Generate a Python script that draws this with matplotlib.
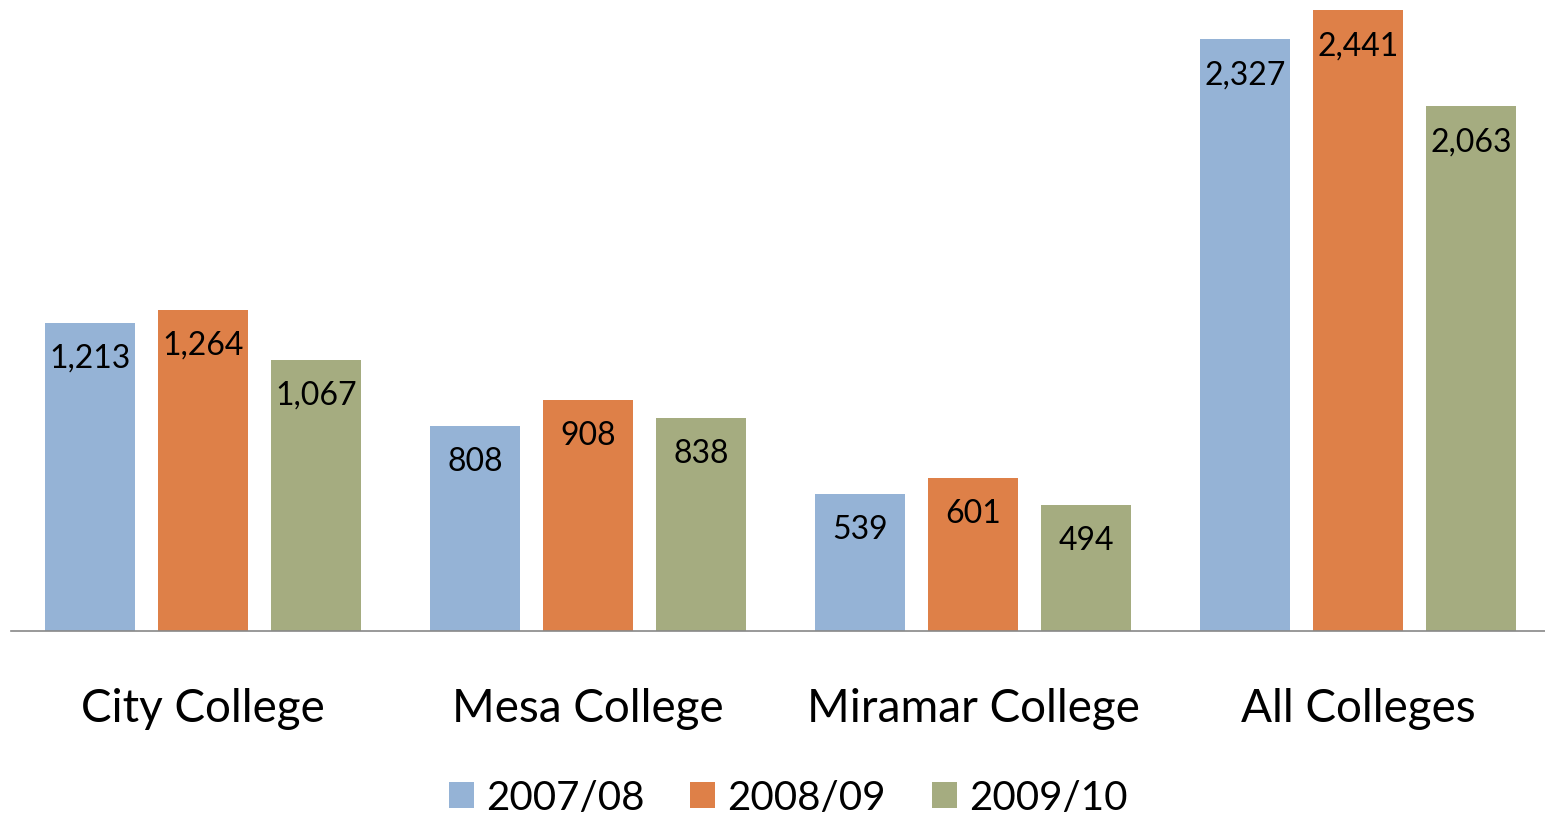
import matplotlib
matplotlib.use("Agg")
import matplotlib.pyplot as plt
import numpy as np
from matplotlib.patches import Patch

plt.rcParams['font.family'] = ['Lato', 'DejaVu Sans']

categories = ["City College", "Mesa College", "Miramar College", "All Colleges"]
series_names = ["2007/08", "2008/09", "2009/10"]
v0708 = [1213, 808, 539, 2327]
v0809 = [1264, 908, 601, 2441]
v0910 = [1067, 838, 494, 2063]
colors = ["#95B3D6", "#DE8048", "#A5AC80"]

fig = plt.figure(figsize=(15.45, 8.14), dpi=100)
ax = fig.add_axes([10.5/1545, 1 - 631/814, 1540/1545, (631 - 8)/814])

x = np.arange(len(categories))
width = 90/385
offset = 113/385
for i, (vals, col) in enumerate(zip([v0708, v0809, v0910], colors)):
    pos = x + (i - 1) * offset
    ax.bar(pos, vals, width=width, color=col, edgecolor='none')
    for p, v in zip(pos, vals):
        ax.annotate(f"{v:,}", xy=(p, v), xytext=(0, -36), textcoords='offset pixels',
                    ha='center', va='center', fontsize=23, color='black')

ax.set_xlim(-0.5, 3.5)
ax.set_ylim(0, 2450)
for s in ['top', 'right', 'left']:
    ax.spines[s].set_visible(False)
ax.spines['bottom'].set_color('#888888')
ax.spines['bottom'].set_linewidth(1.2)
ax.spines['bottom'].set_bounds(-0.5, 3.49)
ax.set_yticks([])
ax.set_xticks(x)
ax.set_xticklabels(categories, fontsize=33)
ax.tick_params(axis='x', length=0, pad=41)

handles = [Patch(facecolor=c, edgecolor='none') for c in colors]
fig.legend(handles, series_names, loc='center', bbox_to_anchor=(788/1545, 1 - 798/814),
           ncol=3, frameon=False, fontsize=29, handlelength=0.62, handleheight=0.62,
           handletextpad=0.3, columnspacing=1.14)

fig.savefig("out.png", dpi=100)
